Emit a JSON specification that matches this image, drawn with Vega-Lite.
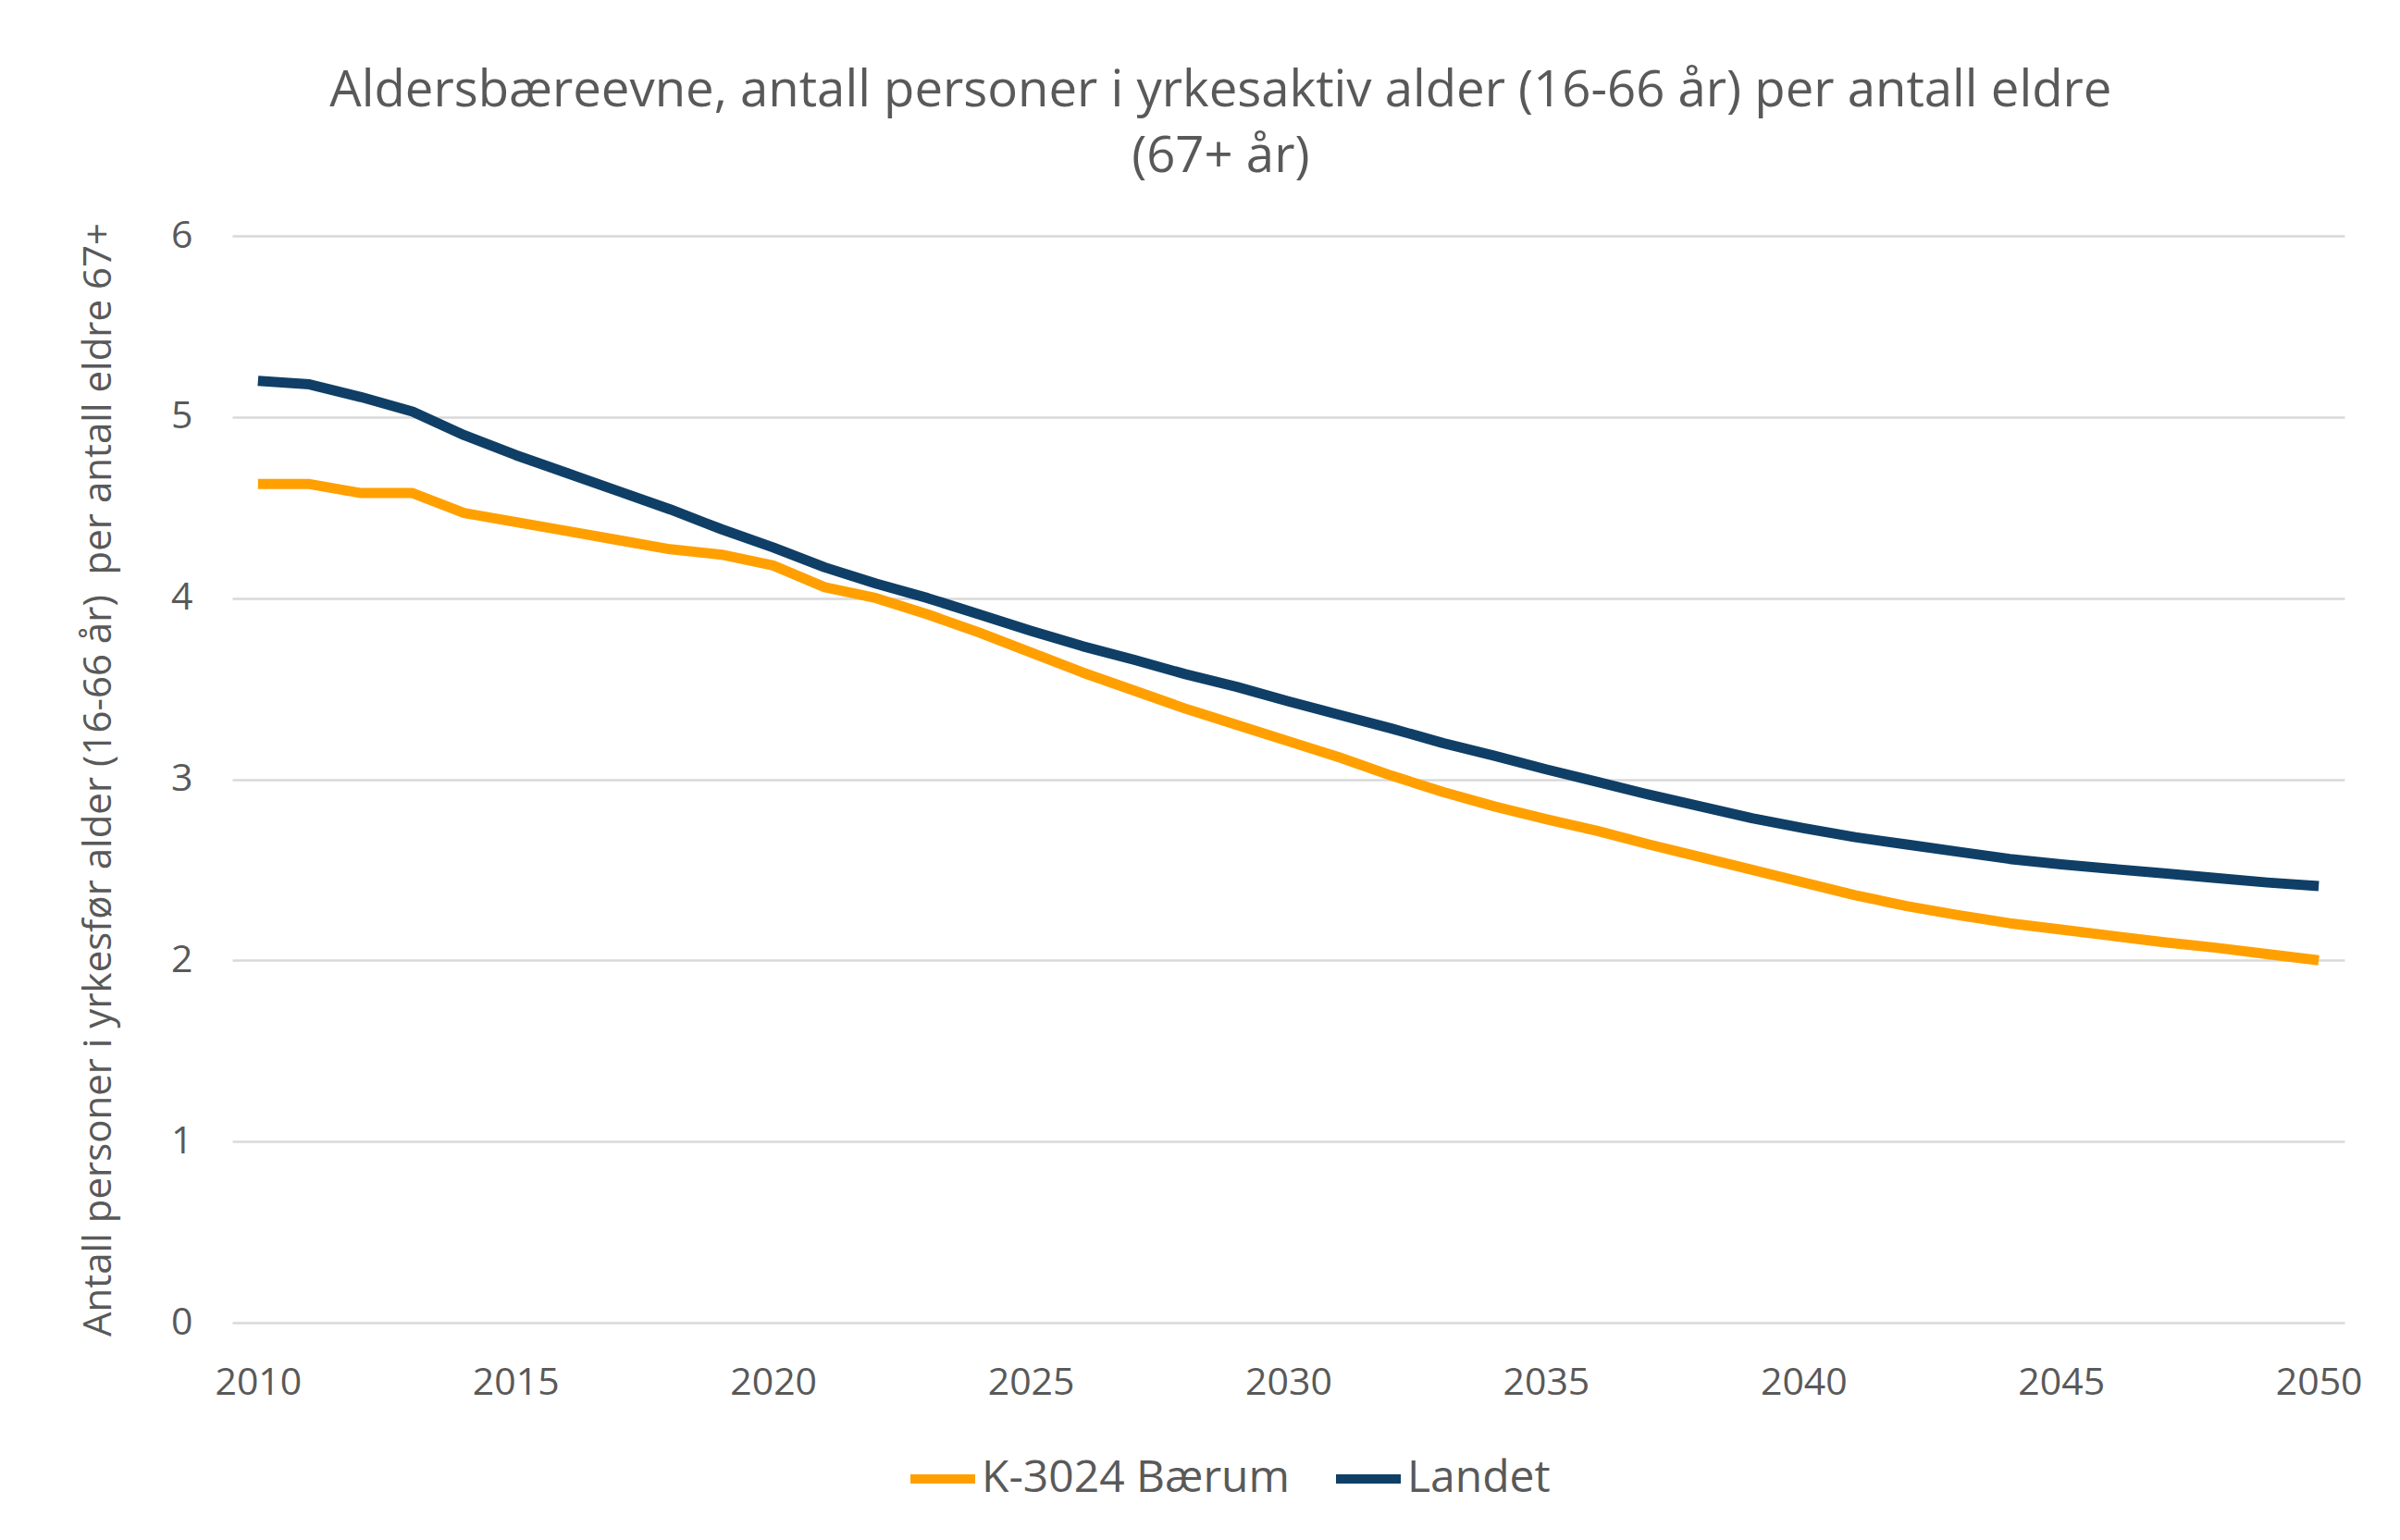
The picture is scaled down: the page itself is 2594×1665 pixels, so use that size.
{
  "$schema": "https://vega.github.io/schema/vega-lite/v6.json",
  "autosize": {"type": "none"},
  "width": 2283,
  "height": 1175,
  "padding": {"left": 251, "top": 255, "right": 60, "bottom": 235},
  "background": "white",
  "config": {
    "view": {"stroke": null},
    "font": "Open Sans"
  },
  "title": {
    "text": ["Aldersbæreevne, antall personer i yrkesaktiv alder (16-66 år) per antall eldre", "(67+ år)"],
    "fontSize": 54.5,
    "fontWeight": "normal",
    "color": "#595959",
    "lineHeight": 71,
    "anchor": "middle",
    "frame": "bounds",
    "offset": 37
  },
  "data": {
    "values": [
      {"year": 2010, "serie": "K-3024 Bærum", "value": 4.63},
      {"year": 2011, "serie": "K-3024 Bærum", "value": 4.63},
      {"year": 2012, "serie": "K-3024 Bærum", "value": 4.58},
      {"year": 2013, "serie": "K-3024 Bærum", "value": 4.58},
      {"year": 2014, "serie": "K-3024 Bærum", "value": 4.47},
      {"year": 2015, "serie": "K-3024 Bærum", "value": 4.42},
      {"year": 2016, "serie": "K-3024 Bærum", "value": 4.37},
      {"year": 2017, "serie": "K-3024 Bærum", "value": 4.32},
      {"year": 2018, "serie": "K-3024 Bærum", "value": 4.27},
      {"year": 2019, "serie": "K-3024 Bærum", "value": 4.24},
      {"year": 2020, "serie": "K-3024 Bærum", "value": 4.18},
      {"year": 2021, "serie": "K-3024 Bærum", "value": 4.06},
      {"year": 2022, "serie": "K-3024 Bærum", "value": 4.0},
      {"year": 2023, "serie": "K-3024 Bærum", "value": 3.91},
      {"year": 2024, "serie": "K-3024 Bærum", "value": 3.81},
      {"year": 2025, "serie": "K-3024 Bærum", "value": 3.7},
      {"year": 2026, "serie": "K-3024 Bærum", "value": 3.59},
      {"year": 2027, "serie": "K-3024 Bærum", "value": 3.49},
      {"year": 2028, "serie": "K-3024 Bærum", "value": 3.39},
      {"year": 2029, "serie": "K-3024 Bærum", "value": 3.3},
      {"year": 2030, "serie": "K-3024 Bærum", "value": 3.21},
      {"year": 2031, "serie": "K-3024 Bærum", "value": 3.12},
      {"year": 2032, "serie": "K-3024 Bærum", "value": 3.02},
      {"year": 2033, "serie": "K-3024 Bærum", "value": 2.93},
      {"year": 2034, "serie": "K-3024 Bærum", "value": 2.85},
      {"year": 2035, "serie": "K-3024 Bærum", "value": 2.78},
      {"year": 2036, "serie": "K-3024 Bærum", "value": 2.715},
      {"year": 2037, "serie": "K-3024 Bærum", "value": 2.64},
      {"year": 2038, "serie": "K-3024 Bærum", "value": 2.57},
      {"year": 2039, "serie": "K-3024 Bærum", "value": 2.5},
      {"year": 2040, "serie": "K-3024 Bærum", "value": 2.43},
      {"year": 2041, "serie": "K-3024 Bærum", "value": 2.36},
      {"year": 2042, "serie": "K-3024 Bærum", "value": 2.3},
      {"year": 2043, "serie": "K-3024 Bærum", "value": 2.25},
      {"year": 2044, "serie": "K-3024 Bærum", "value": 2.205},
      {"year": 2045, "serie": "K-3024 Bærum", "value": 2.17},
      {"year": 2046, "serie": "K-3024 Bærum", "value": 2.135},
      {"year": 2047, "serie": "K-3024 Bærum", "value": 2.1},
      {"year": 2048, "serie": "K-3024 Bærum", "value": 2.07},
      {"year": 2049, "serie": "K-3024 Bærum", "value": 2.035},
      {"year": 2050, "serie": "K-3024 Bærum", "value": 2.0},
      {"year": 2010, "serie": "Landet", "value": 5.2},
      {"year": 2011, "serie": "Landet", "value": 5.18},
      {"year": 2012, "serie": "Landet", "value": 5.11},
      {"year": 2013, "serie": "Landet", "value": 5.03},
      {"year": 2014, "serie": "Landet", "value": 4.9},
      {"year": 2015, "serie": "Landet", "value": 4.79},
      {"year": 2016, "serie": "Landet", "value": 4.69},
      {"year": 2017, "serie": "Landet", "value": 4.59},
      {"year": 2018, "serie": "Landet", "value": 4.49},
      {"year": 2019, "serie": "Landet", "value": 4.38},
      {"year": 2020, "serie": "Landet", "value": 4.28},
      {"year": 2021, "serie": "Landet", "value": 4.17},
      {"year": 2022, "serie": "Landet", "value": 4.08},
      {"year": 2023, "serie": "Landet", "value": 4.0},
      {"year": 2024, "serie": "Landet", "value": 3.91},
      {"year": 2025, "serie": "Landet", "value": 3.82},
      {"year": 2026, "serie": "Landet", "value": 3.735},
      {"year": 2027, "serie": "Landet", "value": 3.66},
      {"year": 2028, "serie": "Landet", "value": 3.58},
      {"year": 2029, "serie": "Landet", "value": 3.51},
      {"year": 2030, "serie": "Landet", "value": 3.43},
      {"year": 2031, "serie": "Landet", "value": 3.355},
      {"year": 2032, "serie": "Landet", "value": 3.28},
      {"year": 2033, "serie": "Landet", "value": 3.2},
      {"year": 2034, "serie": "Landet", "value": 3.13},
      {"year": 2035, "serie": "Landet", "value": 3.055},
      {"year": 2036, "serie": "Landet", "value": 2.985},
      {"year": 2037, "serie": "Landet", "value": 2.915},
      {"year": 2038, "serie": "Landet", "value": 2.85},
      {"year": 2039, "serie": "Landet", "value": 2.785},
      {"year": 2040, "serie": "Landet", "value": 2.73},
      {"year": 2041, "serie": "Landet", "value": 2.68},
      {"year": 2042, "serie": "Landet", "value": 2.64},
      {"year": 2043, "serie": "Landet", "value": 2.6},
      {"year": 2044, "serie": "Landet", "value": 2.56},
      {"year": 2045, "serie": "Landet", "value": 2.53},
      {"year": 2046, "serie": "Landet", "value": 2.505},
      {"year": 2047, "serie": "Landet", "value": 2.48},
      {"year": 2048, "serie": "Landet", "value": 2.455},
      {"year": 2049, "serie": "Landet", "value": 2.43},
      {"year": 2050, "serie": "Landet", "value": 2.41}
    ]
  },
  "mark": {"type": "line", "strokeWidth": 11, "strokeJoin": "round", "strokeCap": "butt"},
  "encoding": {
    "x": {
      "field": "year",
      "type": "quantitative",
      "scale": {"domain": [2009.5, 2050.5], "nice": false, "zero": false},
      "axis": {
        "title": null,
        "values": [2010, 2015, 2020, 2025, 2030, 2035, 2040, 2045, 2050],
        "format": "d",
        "grid": false,
        "domain": false,
        "ticks": false,
        "labelFontSize": 41,
        "labelColor": "#595959",
        "labelPadding": 45
      }
    },
    "y": {
      "field": "value",
      "type": "quantitative",
      "scale": {"domain": [0, 6], "nice": false},
      "axis": {
        "title": "Antall personer i yrkesfør alder (16-66 år)\u00a0 per antall eldre 67+",
        "titleFontSize": 42,
        "titleFontWeight": "normal",
        "titleColor": "#595959",
        "titlePadding": 56,
        "titleLimit": 0,
        "values": [0, 1, 2, 3, 4, 5, 6],
        "grid": true,
        "gridColor": "#d9d9d9",
        "gridWidth": 2.5,
        "domain": false,
        "ticks": false,
        "labelFontSize": 41,
        "labelColor": "#595959",
        "labelPadding": 43
      }
    },
    "color": {
      "field": "serie",
      "type": "nominal",
      "scale": {"domain": ["K-3024 Bærum", "Landet"], "range": ["#FFA000", "#0F3F66"]},
      "legend": {
        "title": null,
        "orient": "none",
        "direction": "horizontal",
        "legendX": 728,
        "legendY": 1304,
        "symbolType": "stroke",
        "symbolStrokeWidth": 10,
        "symbolSize": 4900,
        "labelFontSize": 48,
        "labelLimit": 0,
        "labelColor": "#595959",
        "labelOffset": 2,
        "columnPadding": 30
      }
    }
  }
}
